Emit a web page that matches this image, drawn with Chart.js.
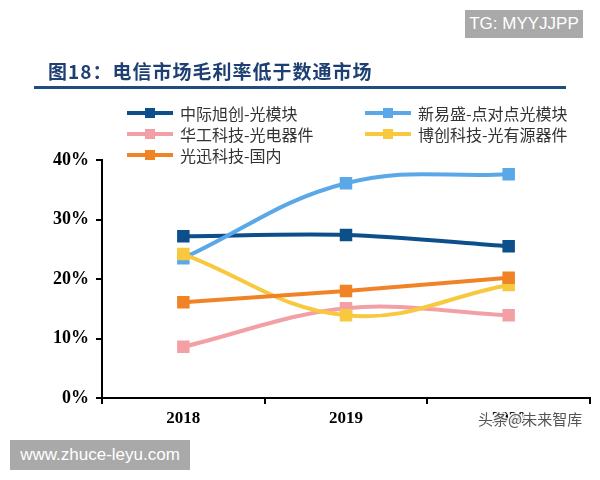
<!DOCTYPE html>
<html><head><meta charset="utf-8">
<script src="https://cdn.jsdelivr.net/npm/chart.js@4/dist/chart.umd.min.js"></script>
<style>
html,body{margin:0;padding:0;background:#fff;}
#wrap{position:relative;width:600px;height:480px;overflow:hidden;}
canvas{position:absolute;left:0;top:0;}
.title{position:absolute;left:48px;top:57px;font-family:"Noto Sans CJK SC";font-weight:bold;font-size:19px;color:#1d3f73;letter-spacing:1px;}
.rule{position:absolute;left:34px;top:86px;width:532px;height:3px;background:#1d4c80;}
.wm{position:absolute;background:#a9a9a9;color:#fff;font-family:"Liberation Sans",Arial,sans-serif;font-size:17px;text-align:center;}
</style></head>
<body><div id="wrap">
<canvas id="c" width="600" height="480"></canvas>
<div class="title">图18：电信市场毛利率低于数通市场</div>
<div class="rule"></div>
<div class="wm" style="left:465px;top:10px;width:118px;height:28px;line-height:28px;">TG: MYYJJPP</div>
<div class="wm" style="left:10px;top:440px;width:180px;height:30px;line-height:30px;">www.zhuce-leyu.com</div>
</div>
<script>
const categories = ["2018", "2019", "2020"];
const seriesNames = ["中际旭创-光模块", "新易盛-点对点光模块", "华工科技-光电器件", "博创科技-光有源器件", "光迅科技-国内"];
const zhongji = [27.2, 27.4, 25.5];
const xinyisheng = [23.5, 36.1, 37.6];
const huagong = [8.6, 15.1, 13.9];
const bochuang = [24.2, 13.9, 19.0];
const guangxun = [16.1, 18.0, 20.2];
const yTicks = [0, 10, 20, 30, 40];
const colors = ["#0d4f8b", "#5aa8e8", "#f2a0a6", "#f8c93e", "#f08326"];
const tensions = [0.3, 0.4, 0.35, 0.4, 0];

const values = [zhongji, xinyisheng, huagong, bochuang, guangxun];
const order = [4, 2, 3, 1, 0]; // draw order
const datasets = values.map((v, i) => ({
  label: seriesNames[i],
  data: v,
  borderColor: colors[i],
  backgroundColor: colors[i],
  borderWidth: 4,
  pointStyle: 'rect',
  pointRadius: 6,
  pointHoverRadius: 6,
  tension: tensions[i],
  order: order[i],
  clip: false
}));

const legendPlugin = {
  id: 'customLegend',
  afterDraw(chart) {
    const ctx = chart.ctx;
    const pos = [[127, 113], [365, 113], [127, 134], [365, 134], [127, 155]];
    ctx.save();
    chart.data.datasets.forEach((ds, i) => {
      const [x, y] = pos[i];
      ctx.strokeStyle = ds.borderColor;
      ctx.lineWidth = 4;
      ctx.beginPath(); ctx.moveTo(x, y); ctx.lineTo(x + 46, y); ctx.stroke();
      ctx.fillStyle = ds.borderColor;
      ctx.fillRect(x + 18, y - 5, 10, 10);
      ctx.fillStyle = '#333';
      ctx.font = '16px "Noto Sans CJK SC"';
      ctx.textBaseline = 'middle';
      ctx.fillText(ds.label, x + 53, y + 1);
    });
    // watermark
    ctx.font = '15px "Noto Sans CJK SC"';
    ctx.textBaseline = 'middle';
    ctx.lineWidth = 3;
    ctx.strokeStyle = 'rgba(255,255,255,0.85)';
    ctx.strokeText('头条@未来智库', 478, 419);
    ctx.fillStyle = '#555';
    ctx.fillText('头条@未来智库', 478, 419);
    ctx.restore();
  }
};

new Chart(document.getElementById('c'), {
  type: 'line',
  data: { labels: categories, datasets },
  options: {
    responsive: false,
    animation: false,
    events: [],
    layout: { padding: { top: 160, right: 8, left: 0, bottom: 0 } },
    plugins: { legend: { display: false }, tooltip: { enabled: false } },
    scales: {
      x: {
        offset: true,
        afterFit(s) { s.height = 82; },
        grid: { offset: true, drawOnChartArea: false, drawTicks: true, tickLength: 6, color: '#000', lineWidth: 2 },
        border: { display: true, color: '#000', width: 2 },
        ticks: { color: '#000', font: { family: '"Liberation Serif"', weight: 'bold', size: 17 }, padding: 4 }
      },
      y: {
        min: 0, max: 40,
        afterFit(s) { s.width = 102; },
        afterBuildTicks(s) { s.ticks = yTicks.map(v => ({ value: v })); },
        grid: { drawOnChartArea: false, drawTicks: true, tickLength: 6, color: '#000', lineWidth: 2 },
        border: { display: true, color: '#000', width: 2 },
        ticks: { color: '#000', font: { family: '"Liberation Serif"', weight: 'bold', size: 18 }, padding: 7, callback: v => v + '%' }
      }
    }
  },
  plugins: [legendPlugin]
});
</script>
</body></html>
